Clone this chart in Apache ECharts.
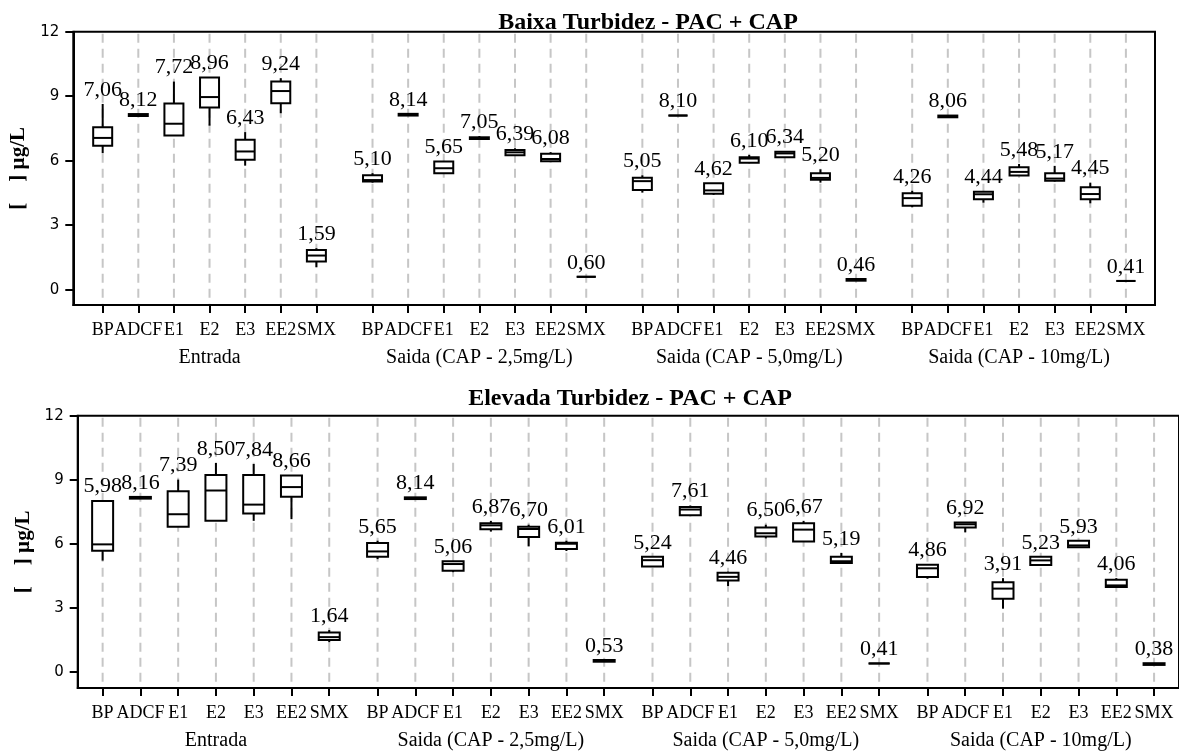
<!DOCTYPE html>
<html>
<head>
<meta charset="utf-8">
<script src="https://cdn.jsdelivr.net/npm/echarts@6/dist/echarts.min.js"></script>
<style>
  html, body { margin: 0; padding: 0; background: #fff; }
  #chart { width: 1179px; height: 751px; }
</style>
</head>
<body>
<div id="chart"></div>
<script>
// Compounds measured in every stage, and the stages themselves
const categories = ['BP', 'ADCF', 'E1', 'E2', 'E3', 'EE2', 'SMX'];
const stages = ['Entrada', 'Saida (CAP - 2,5mg/L)', 'Saida (CAP - 5,0mg/L)', 'Saida (CAP - 10mg/L)'];
const yTicks = [0, 3, 6, 9, 12];
const titles = ['Baixa Turbidez - PAC + CAP', 'Elevada Turbidez - PAC + CAP'];
const yName = '[    ] µg/L';

// Baixa turbidez: whisker low, Q1, median, Q3, whisker high (µg/L), 4 stages x 7 compounds
const baixaMin = [6.35, 8.08, 7.17, 7.63, 5.77, 8.21, 1.05,
                  4.98, 8.10, 5.42, 6.98, 6.24, 5.96, 0.60,
                  4.52, 8.10, 4.41, 5.88, 6.16, 4.98, 0.42,
                  3.84, 8.02, 4.05, 5.31, 5.03, 4.02, 0.41];
const baixaQ1  = [6.70, 8.08, 7.17, 8.47, 6.04, 8.67, 1.31,
                  5.03, 8.10, 5.42, 7.01, 6.26, 5.98, 0.60,
                  4.64, 8.10, 4.46, 5.90, 6.16, 5.11, 0.42,
                  3.91, 8.02, 4.21, 5.31, 5.07, 4.21, 0.41];
const baixaMed = [7.06, 8.12, 7.72, 8.96, 6.43, 9.24, 1.59,
                  5.10, 8.14, 5.65, 7.05, 6.39, 6.08, 0.60,
                  5.05, 8.10, 4.62, 6.10, 6.34, 5.20, 0.46,
                  4.26, 8.06, 4.44, 5.48, 5.17, 4.45, 0.41];
const baixaQ3  = [7.56, 8.17, 8.66, 9.87, 6.97, 9.68, 1.85,
                  5.32, 8.18, 5.96, 7.09, 6.50, 6.32, 0.60,
                  5.21, 8.10, 4.95, 6.16, 6.42, 5.42, 0.50,
                  4.49, 8.10, 4.56, 5.70, 5.42, 4.77, 0.41];
const baixaMax = [8.64, 8.17, 9.68, 9.87, 7.33, 9.84, 1.93,
                  5.42, 8.18, 5.96, 7.15, 6.58, 6.40, 0.60,
                  5.32, 8.10, 4.95, 6.27, 6.42, 5.60, 0.50,
                  4.60, 8.10, 4.56, 5.85, 5.76, 4.98, 0.41];

// Elevada turbidez
const elevMin = [5.22, 8.12, 6.80, 7.08, 7.08, 7.16, 1.40,
                 5.29, 8.10, 4.68, 6.58, 5.89, 5.67, 0.49,
                 4.94, 7.34, 4.03, 6.26, 6.12, 5.11, 0.41,
                 4.37, 6.54, 2.97, 5.02, 5.84, 3.98, 0.34];
const elevQ1  = [5.68, 8.12, 6.80, 7.08, 7.43, 8.21, 1.50,
                 5.40, 8.10, 4.75, 6.69, 6.33, 5.76, 0.49,
                 4.94, 7.34, 4.29, 6.35, 6.12, 5.11, 0.41,
                 4.45, 6.77, 3.44, 5.02, 5.84, 3.98, 0.34];
const elevMed = [5.98, 8.16, 7.39, 8.50, 7.84, 8.66, 1.64,
                 5.65, 8.14, 5.06, 6.87, 6.70, 6.01, 0.53,
                 5.24, 7.61, 4.46, 6.50, 6.67, 5.19, 0.41,
                 4.86, 6.92, 3.91, 5.23, 5.93, 4.06, 0.38];
const elevQ3  = [8.01, 8.20, 8.47, 9.22, 9.22, 9.20, 1.86,
                 6.04, 8.18, 5.19, 6.97, 6.80, 6.06, 0.57,
                 5.40, 7.73, 4.65, 6.77, 6.97, 5.40, 0.41,
                 5.03, 7.00, 4.21, 5.40, 6.15, 4.32, 0.42];
const elevMax = [8.05, 8.20, 9.01, 9.79, 9.74, 9.20, 1.97,
                 6.15, 8.18, 5.19, 7.08, 6.90, 6.15, 0.57,
                 5.38, 7.80, 4.70, 6.90, 7.08, 5.58, 0.41,
                 5.03, 7.00, 4.40, 5.40, 6.15, 4.40, 0.42];

// Layout of the two panels
const panels = [
  { gap: 1.576, xMin: -0.825, xMax: 29.545, left: 73.3, top: 31.7, width: 1081.7, height: 273.3, yMin: -0.71, boxW: 19, titleX: 648, titleY: 23 },
  { gap: 1.28,  xMin: -0.66,  xMax: 28.5,   left: 77.7, top: 415.7, width: 1104.6, height: 274.3, yMin: -0.74, boxW: 21, titleX: 630, titleY: 399 }
];
const series5 = [
  [baixaMin, baixaQ1, baixaMed, baixaQ3, baixaMax],
  [elevMin, elevQ1, elevMed, elevQ3, elevMax]
];

const SERIF = '"Liberation Serif", "Times New Roman", serif';
const fmt = v => v.toFixed(2).replace('.', ',');

function positions(gap) {
  const out = [];
  for (let g = 0; g < stages.length; g++)
    for (let i = 0; i < categories.length; i++) out.push(g * (categories.length - 1 + gap) + i);
  return out;
}

const grids = [], xAxes = [], yAxes = [], series = [], graphics = [];

panels.forEach((p, k) => {
  const pos = positions(p.gap);
  const centers = stages.map((s, g) => g * (categories.length - 1 + p.gap) + (categories.length - 1) / 2);
  const nameAt = v => { const i = pos.findIndex(q => Math.abs(q - v) < 1e-6); return i < 0 ? '' : categories[i % categories.length]; };
  // neighbouring compound names touch, so they are split over two label sets on the same line
  const posEven = pos.filter((x, i) => (i % categories.length) % 2 === 0);
  const posOdd = pos.filter((x, i) => (i % categories.length) % 2 === 1);
  const labelStyle = { show: true, margin: 16, color: '#000', fontFamily: SERIF, fontSize: 18,
    showMinLabel: true, showMaxLabel: true, hideOverlap: false, formatter: nameAt };

  grids.push({ left: p.left, top: p.top, width: p.width, height: p.height,
               show: true, borderColor: '#000', borderWidth: 2, backgroundColor: 'transparent' });

  const base = xAxes.length;
  // compound axis: line, ticks and every other name
  xAxes.push({
    type: 'value', gridIndex: k, min: p.xMin, max: p.xMax,
    axisLine: { show: true, onZero: false, lineStyle: { color: '#000', width: 2 } },
    axisTick: { show: true, length: 8, inside: false, customValues: pos, lineStyle: { color: '#000', width: 2 } },
    axisLabel: Object.assign({ customValues: posEven }, labelStyle),
    splitLine: { show: false }
  });
  // remaining compound names
  xAxes.push({
    type: 'value', gridIndex: k, min: p.xMin, max: p.xMax, position: 'bottom',
    axisLine: { show: false }, axisTick: { show: false }, splitLine: { show: false },
    axisLabel: Object.assign({ customValues: posOdd }, labelStyle)
  });
  // stage names
  xAxes.push({
    type: 'value', gridIndex: k, min: p.xMin, max: p.xMax, position: 'bottom',
    axisLine: { show: false }, axisTick: { show: false }, splitLine: { show: false },
    axisLabel: { show: true, customValues: centers, margin: 43, color: '#000', fontFamily: SERIF, fontSize: 20,
      showMinLabel: true, showMaxLabel: true, hideOverlap: false,
      formatter: v => { const i = centers.findIndex(q => Math.abs(q - v) < 1e-6); return i < 0 ? '' : stages[i]; } }
  });
  yAxes.push({
    type: 'value', gridIndex: k, min: p.yMin, max: 12,
    name: yName, nameLocation: 'middle', nameGap: 33,
    nameTextStyle: { fontFamily: SERIF, fontWeight: 'bold', fontSize: 21, color: '#000' },
    axisLine: { show: true, onZero: false, lineStyle: { color: '#000', width: 2 } },
    axisTick: { show: true, length: 8, customValues: yTicks, lineStyle: { color: '#000', width: 2 } },
    axisLabel: { customValues: yTicks, margin: 14, color: '#000', fontFamily: '"DejaVu Sans", sans-serif', fontSize: 15,
      showMinLabel: true, showMaxLabel: true },
    splitLine: { show: false }
  });

  // dashed reference line at every compound
  series.push({
    type: 'custom', xAxisIndex: base, yAxisIndex: k, z: 1, silent: true,
    data: pos.map(x => [x]),
    renderItem: (params, api) => {
      const cs = params.coordSys;
      const x = api.coord([api.value(0), 0])[0];
      return { type: 'line', shape: { x1: x, y1: cs.y + 2, x2: x, y2: cs.y + cs.height - 1 },
               style: { stroke: '#c6c6c6', lineWidth: 2, lineDash: [9, 6] } };
    }
  });

  // box plots with the median value written above each one
  const [mn, q1, md, q3, mx] = series5[k];
  series.push({
    type: 'custom', xAxisIndex: base, yAxisIndex: k, z: 3,
    data: pos.map((x, i) => [x, mn[i], q1[i], md[i], q3[i], mx[i]]),
    renderItem: (params, api) => {
      const x = api.value(0);
      const cx = api.coord([x, 0])[0];
      const y = j => api.coord([x, api.value(j)])[1];
      const yMin = y(1), yQ1 = y(2), yMed = y(3), yQ3 = y(4), yMax = y(5);
      const w = p.boxW;
      const ls = { stroke: '#000', lineWidth: 2 };
      return { type: 'group', children: [
        { type: 'line', shape: { x1: cx, y1: yQ3, x2: cx, y2: yMax }, style: ls },
        { type: 'line', shape: { x1: cx, y1: yQ1, x2: cx, y2: yMin }, style: ls },
        { type: 'rect', shape: { x: cx - w / 2, y: yQ3, width: w, height: Math.max(yQ1 - yQ3, 0) },
          style: { fill: '#fff', stroke: '#000', lineWidth: 2 } },
        { type: 'line', shape: { x1: cx - w / 2, y1: yMed, x2: cx + w / 2, y2: yMed }, style: ls },
        { type: 'text', x: cx, y: yMax - 3,
          style: { text: fmt(api.value(3)), fill: '#000', font: '22px ' + SERIF, align: 'center', verticalAlign: 'bottom' } }
      ] };
    }
  });

  graphics.push({ type: 'text', x: p.titleX, y: p.titleY,
    style: { text: titles[k], fill: '#000', font: 'bold 24px ' + SERIF, align: 'center', verticalAlign: 'middle' } });
});

const chart = echarts.init(document.getElementById('chart'), null, { renderer: 'canvas' });
chart.setOption({
  animation: false,
  backgroundColor: '#fff',
  grid: grids, xAxis: xAxes, yAxis: yAxes, series: series, graphic: graphics
});
</script>
</body>
</html>
